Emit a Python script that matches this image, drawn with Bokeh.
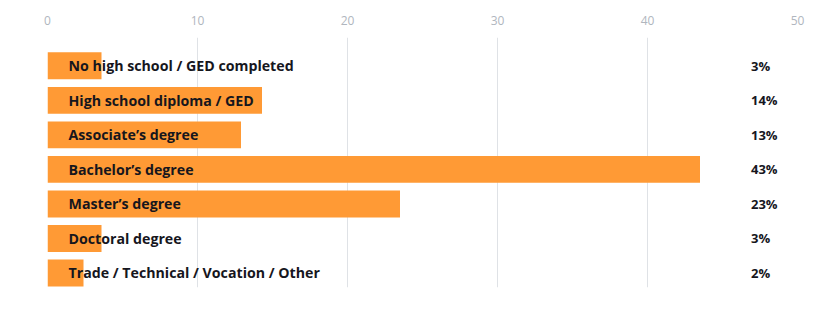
from bokeh.plotting import figure
from bokeh.models import Range1d, FixedTicker, ColumnDataSource
from bokeh.core.properties import value
from bokeh.embed import file_html
from bokeh.resources import INLINE

categories = ["No high school / GED completed", "High school diploma / GED",
              "Associate\u2019s degree", "Bachelor\u2019s degree", "Master\u2019s degree",
              "Doctoral degree", "Trade / Technical / Vocation / Other"]
values = [3.6, 14.3, 12.9, 43.5, 23.5, 3.6, 2.4]
pct_labels = ["3%", "14%", "13%", "43%", "23%", "3%", "2%"]
x_ticks = [0, 10, 20, 30, 40, 50]

idx = list(range(len(categories)))
src = ColumnDataSource(dict(y=idx, v=values, cat=categories, pct=pct_labels,
                            lx=[1.4] * len(idx), px=[46.9] * len(idx)))

p = figure(width=831, height=313, output_backend="svg", toolbar_location=None,
           x_range=Range1d(0, 50), y_range=Range1d(6.42, -0.82),
           x_axis_location="above",
           min_border_left=47, min_border_right=34, min_border_top=37, min_border_bottom=26)
p.outline_line_color = None
p.background_fill_color = "white"
p.border_fill_color = "white"

p.hbar(y="y", left=0, right="v", height=0.78, source=src, color="#FF9A35", line_color=None)

p.text(x="lx", y="y", text="cat", source=src, text_font=value("Open Sans"),
       text_font_style="bold", text_font_size="14.2px", text_color="#16161d",
       text_baseline="middle", text_align="left")
p.text(x="px", y="y", text="pct", source=src, text_font=value("Open Sans"),
       text_font_style="bold", text_font_size="13px", text_color="#16161d",
       text_baseline="middle", text_align="left")

p.yaxis.visible = False
p.ygrid.visible = False
ax = p.xaxis[0]
ax.ticker = FixedTicker(ticks=x_ticks)
ax.axis_line_color = None
ax.major_tick_line_color = None
ax.minor_tick_line_color = None
ax.major_label_text_color = "#b0b6be"
ax.major_label_text_font = "Open Sans"
ax.major_label_text_font_size = "12px"
ax.major_label_standoff = 7
p.xgrid.ticker = FixedTicker(ticks=[10, 20, 30, 40, 50])
p.xgrid.grid_line_color = "#dfe2e6"
p.xgrid.grid_line_width = 1

open("out.html", "w").write(file_html(p, INLINE))
